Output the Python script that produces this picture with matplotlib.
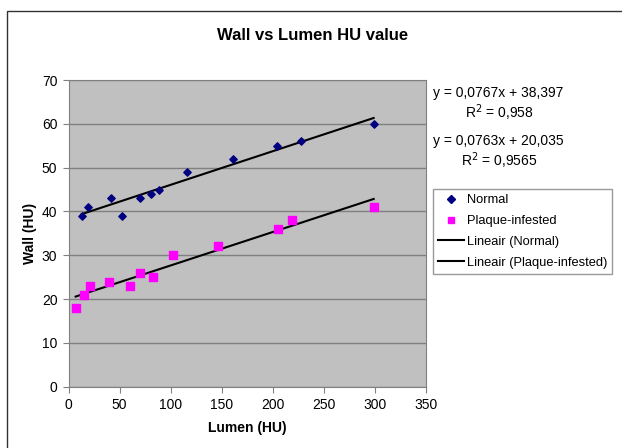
import matplotlib.pyplot as plt
import numpy as np
from matplotlib.patches import Rectangle
from matplotlib.lines import Line2D

plt.rcParams['font.family'] = ['Liberation Sans', 'DejaVu Sans']

# data
normal_x = [13, 19, 42, 52, 70, 81, 89, 116, 161, 204, 228, 299]
normal_y = [39, 41, 43, 39, 43, 44, 45, 49, 52, 55, 56, 60]
plaque_x = [7, 15, 21, 40, 60, 70, 83, 102, 146, 205, 219, 299]
plaque_y = [18, 21, 23, 24, 23, 26, 25, 30, 32, 36, 38, 41]

# trendline coefficients as printed on the chart
normal_fit = (0.0767, 38.397)
plaque_fit = (0.0763, 20.035)

fig = plt.figure(figsize=(6.22, 4.48), dpi=100)
fig.patches.append(Rectangle((7 / 622, -0.1), 1.2, 1 - 11 / 448 + 0.1,
                             transform=fig.transFigure, fill=False,
                             edgecolor='#333333', linewidth=1.0))

ax = fig.add_axes([68.5 / 622, 1 - 386.7 / 448, 357.2 / 622, 306.7 / 448])
ax.set_facecolor('#C0C0C0')

ax.scatter(normal_x, normal_y, marker='D', s=14, color='#000080', zorder=3)
ax.scatter(plaque_x, plaque_y, marker='s', s=26, color='#FF00FF', zorder=3)

for xs, (m, b) in [(normal_x, normal_fit), (plaque_x, plaque_fit)]:
    xx = np.array([min(xs), max(xs)])
    ax.plot(xx, m * xx + b, color='black', linewidth=1.5, zorder=2)

ax.set_xlim(0, 350)
ax.set_ylim(0, 70)
ax.set_xticks(range(0, 351, 50))
ax.set_yticks(range(0, 71, 10))
ax.yaxis.grid(True, color='#808080', linewidth=1.0)
ax.set_axisbelow(True)
for s in ax.spines.values():
    s.set_color('#808080')
ax.tick_params(direction='out', length=4, color='#808080', labelsize=10, pad=4)

ax.set_xlabel('Lumen (HU)', fontsize=10, fontweight='bold', va='center')
ax.set_ylabel('Wall (HU)', fontsize=10, fontweight='bold', va='center')
ax.xaxis.set_label_coords(0.5, -(428 - 386.7) / 306.7)
ax.yaxis.set_label_coords((30 - 68.5) / 357.2, 0.5)

fig.text(313 / 622, 1 - 36 / 448, 'Wall vs Lumen HU value', ha='center',
         va='center', fontsize=12, fontweight='bold')

fig.text(433 / 622, 1 - 93 / 448, 'y = 0,0767x + 38,397', fontsize=10, va='center')
fig.text(465 / 622, 1 - 113 / 448, 'R$^2$ = 0,958', fontsize=10, va='center')
fig.text(433 / 622, 1 - 141 / 448, 'y = 0,0763x + 20,035', fontsize=10, va='center')
fig.text(461 / 622, 1 - 161 / 448, 'R$^2$ = 0,9565', fontsize=10, va='center')

handles = [
    Line2D([], [], marker='D', linestyle='none', color='#000080', markersize=4),
    Line2D([], [], marker='s', linestyle='none', color='#FF00FF', markersize=5),
    Line2D([], [], color='black', linewidth=1.5),
    Line2D([], [], color='black', linewidth=1.5),
]
labels = ['Normal', 'Plaque-infested', 'Lineair (Normal)', 'Lineair (Plaque-infested)']
leg = fig.legend(handles, labels, loc='upper left',
                 bbox_to_anchor=(433 / 622, 1 - 189 / 448), fontsize=9.3,
                 frameon=True, fancybox=False, edgecolor='#808080',
                 handlelength=2.0, handletextpad=0.2, borderpad=0.4,
                 labelspacing=0.68, borderaxespad=0)
leg.get_frame().set_linewidth(1.0)

fig.savefig('out.png', dpi=100)
